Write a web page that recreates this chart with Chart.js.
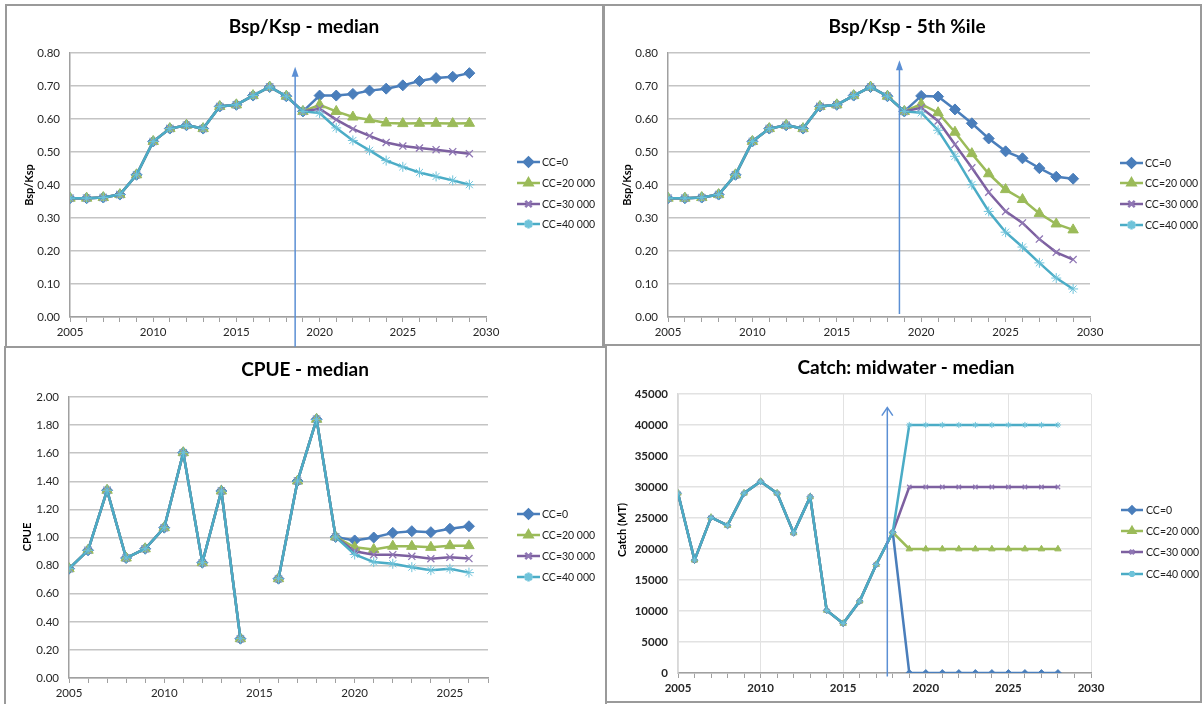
<!DOCTYPE html>
<html>
<head>
<meta charset="utf-8">
<script src="https://cdn.jsdelivr.net/npm/chart.js"></script>
<style>
  html, body { margin: 0; padding: 0; background: #fff; }
  body { width: 1203px; height: 704px; position: relative; overflow: hidden; }
  .frame { position: absolute; border: 2px solid #9a9a9a; box-sizing: border-box; }
  canvas { position: absolute; }
</style>
</head>
<body>
<div class="frame" style="left:5px;top:4px;width:599px;height:344px"></div>
<div class="frame" style="left:603px;top:4px;width:599px;height:342px"></div>
<div class="frame" style="left:4px;top:346px;width:603px;height:362px"></div>
<div class="frame" style="left:605px;top:344px;width:597px;height:359px"></div>

<canvas id="bspMedian" width="597" height="342" style="left:6px;top:5px"></canvas>
<canvas id="bsp5th" width="597" height="340" style="left:604px;top:5px"></canvas>
<canvas id="cpueMedian" width="601" height="357" style="left:5px;top:347px"></canvas>
<canvas id="catchMidwater" width="595" height="357" style="left:606px;top:345px"></canvas>

<script>
// ---- Scenario labels ----
const scenarioLabels = ['CC=0', 'CC=20 000', 'CC=30 000', 'CC=40 000'];

// ---- Spawning biomass ratio Bsp/Ksp ----
const bspHistYears = [2005, 2006, 2007, 2008, 2009, 2010, 2011, 2012, 2013, 2014, 2015, 2016, 2017, 2018, 2019];
const bspHist = [0.360, 0.360, 0.362, 0.371, 0.431, 0.532, 0.571, 0.581, 0.571, 0.638, 0.643, 0.671, 0.697, 0.669, 0.623];
const bspProjYears = [2020, 2021, 2022, 2023, 2024, 2025, 2026, 2027, 2028, 2029];

const bspMedianCC0  = [0.671, 0.671, 0.676, 0.686, 0.692, 0.702, 0.715, 0.724, 0.728, 0.739];
const bspMedianCC20 = [0.643, 0.623, 0.606, 0.598, 0.588, 0.586, 0.587, 0.587, 0.586, 0.587];
const bspMedianCC30 = [0.631, 0.598, 0.570, 0.549, 0.529, 0.518, 0.512, 0.507, 0.501, 0.495];
const bspMedianCC40 = [0.618, 0.573, 0.535, 0.505, 0.474, 0.455, 0.438, 0.426, 0.414, 0.401];

const bsp5thCC0  = [0.670, 0.668, 0.629, 0.587, 0.541, 0.502, 0.481, 0.451, 0.425, 0.419];
const bsp5thCC20 = [0.645, 0.619, 0.560, 0.495, 0.434, 0.386, 0.356, 0.314, 0.282, 0.264];
const bsp5thCC30 = [0.634, 0.594, 0.523, 0.452, 0.378, 0.320, 0.285, 0.236, 0.196, 0.174];
const bsp5thCC40 = [0.619, 0.566, 0.487, 0.401, 0.320, 0.257, 0.212, 0.164, 0.118, 0.085];

// ---- CPUE (no index in 2015) ----
const cpueHistYears = [2005, 2006, 2007, 2008, 2009, 2010, 2011, 2012, 2013, 2014, 2015, 2016, 2017, 2018, 2019];
const cpueHist = [0.778, 0.909, 1.336, 0.854, 0.920, 1.070, 1.604, 0.821, 1.331, 0.280, null, 0.707, 1.402, 1.841, 1.004];
const cpueProjYears = [2020, 2021, 2022, 2023, 2024, 2025, 2026];
const cpueCC0  = [0.979, 1.000, 1.033, 1.045, 1.038, 1.062, 1.080];
const cpueCC20 = [0.930, 0.915, 0.938, 0.937, 0.930, 0.942, 0.942];
const cpueCC30 = [0.902, 0.878, 0.878, 0.866, 0.849, 0.860, 0.850];
const cpueCC40 = [0.879, 0.825, 0.813, 0.789, 0.767, 0.778, 0.750];

// ---- Midwater catch (MT) ----
const catchHistYears = [2005, 2006, 2007, 2008, 2009, 2010, 2011, 2012, 2013, 2014, 2015, 2016, 2017, 2018];
const catchHist = [29000, 18200, 25100, 23800, 29000, 30900, 29000, 22600, 28400, 10100, 8000, 11600, 17500, 22700];
const catchProjYears = [2019, 2020, 2021, 2022, 2023, 2024, 2025, 2026, 2027, 2028];
const catchCC0  = [0, 0, 0, 0, 0, 0, 0, 0, 0, 0];
const catchCC20 = [20000, 20000, 20000, 20000, 20000, 20000, 20000, 20000, 20000, 20000];
const catchCC30 = [30000, 30000, 30000, 30000, 30000, 30000, 30000, 30000, 30000, 30000];
const catchCC40 = [40000, 40000, 40000, 40000, 40000, 40000, 40000, 40000, 40000, 40000];

// ---- Axis ticks ----
const bspTicks = { min: 0, max: 0.8, step: 0.1 };
const cpueTicks = { min: 0, max: 2.0, step: 0.2 };
const catchTicks = { min: 0, max: 45000, step: 5000 };

// Series styling (Excel-like palette and markers)
const seriesStyle = [
  { color: '#4a7ebb', marker: '#4a7ebb', point: 'rectRot',  radius: 5.5, bw: 1 },
  { color: '#9bbb59', marker: '#9bbb59', point: 'triangle', radius: 6,   bw: 1 },
  { color: '#7d60a0', marker: '#8f76b4', point: 'crossRot', radius: 5,   bw: 1.3 },
  { color: '#4bacc6', marker: '#6fc3da', point: 'star',     radius: 5,   bw: 1 }
];

const FONT = 'Lato, "Open Sans", "DejaVu Sans", sans-serif';
Chart.defaults.font.family = FONT;

function toPoints(years, values) {
  return years.map((yr, i) => ({ x: yr, y: values[i] }));
}

// Titles, rotated axis title, legend and the vertical arrow
const panelDecor = {
  id: 'panelDecor',
  afterDatasetsDraw(chart, args, o) {
    if (!o.arrow) return;
    const { ctx } = chart;
    const xs = chart.scales.x, ys = chart.scales.y;
    const px = xs.getPixelForValue(o.arrow.at);
    const y0 = ys.getPixelForValue(o.arrow.from);
    const y1 = ys.getPixelForValue(o.arrow.to);
    ctx.save();
    ctx.strokeStyle = '#5b8fd4';
    ctx.fillStyle = '#5b8fd4';
    ctx.lineWidth = 1.5;
    ctx.beginPath();
    ctx.moveTo(px, y0);
    ctx.lineTo(px, o.arrow.open ? y1 : y1 + 8);
    ctx.stroke();
    ctx.beginPath();
    if (o.arrow.open) {
      ctx.moveTo(px - 5.5, y1 + 8);
      ctx.lineTo(px, y1);
      ctx.lineTo(px + 5.5, y1 + 8);
      ctx.stroke();
    } else {
      ctx.moveTo(px, y1);
      ctx.lineTo(px - 3.5, y1 + 10);
      ctx.lineTo(px + 3.5, y1 + 10);
      ctx.closePath();
      ctx.fill();
    }
    ctx.restore();
  },
  afterDraw(chart, args, o) {
    const { ctx } = chart;
    ctx.save();
    // chart title
    ctx.fillStyle = '#000';
    ctx.font = 'bold 19px ' + FONT;
    ctx.textAlign = 'center';
    ctx.textBaseline = 'middle';
    ctx.fillText(o.title.text, o.title.x, o.title.y);
    // vertical axis title
    ctx.save();
    ctx.translate(o.yTitle.x, o.yTitle.y);
    ctx.rotate(-Math.PI / 2);
    ctx.font = 'bold 11px ' + FONT;
    ctx.fillText(o.yTitle.text, 0, 0);
    ctx.restore();
    // legend: line with marker, then label
    const lg = o.legend;
    chart.data.datasets.forEach((ds, i) => {
      const st = seriesStyle[i];
      const y = lg.rows[i];
      ctx.strokeStyle = st.color;
      ctx.lineWidth = ds.borderWidth;
      ctx.beginPath();
      ctx.moveTo(lg.x0, y);
      ctx.lineTo(lg.x1, y);
      ctx.stroke();
      ctx.fillStyle = st.marker;
      ctx.strokeStyle = st.marker;
      Chart.helpers.drawPoint(ctx, {
        pointStyle: st.point, rotation: 0,
        radius: Math.min(ds.pointRadius, 4.5), borderWidth: st.bw
      }, (lg.x0 + lg.x1) / 2, y);
      ctx.fillStyle = '#222';
      ctx.font = '10.5px ' + FONT;
      ctx.textAlign = 'left';
      ctx.fillText(ds.label, lg.text, y + 0.5);
    });
    ctx.restore();
  }
};

function buildPanel(id, p) {
  const datasets = p.series.map((vals, i) => {
    const st = seriesStyle[i];
    return {
      label: scenarioLabels[i],
      data: toPoints(p.histYears.concat(p.projYears), p.hist.concat(vals)),
      borderColor: st.color,
      backgroundColor: st.marker,
      pointBorderColor: st.marker,
      pointBackgroundColor: st.marker,
      pointStyle: st.point,
      pointRadius: st.radius * p.markerScale,
      pointBorderWidth: st.bw,
      borderWidth: p.lineWidth,
      tension: 0,
      spanGaps: false,
      order: 3 - i
    };
  });
  const labelColor = '#262626';
  const tickFont = { family: FONT, size: 11.5, weight: p.boldTicks ? 'bold' : 'normal' };
  return new Chart(document.getElementById(id), {
    type: 'line',
    data: { datasets },
    options: {
      responsive: false,
      animation: false,
      events: [],
      layout: { padding: p.pad },
      plugins: {
        legend: { display: false },
        tooltip: { enabled: false },
        title: { display: false },
        panelDecor: p.decor
      },
      scales: {
        x: {
          type: 'linear',
          min: p.xMin, max: p.xMax,
          afterFit: s => { s.height = p.xAxisH; },
          ticks: {
            stepSize: 1, autoSkip: false, maxRotation: 0, minRotation: 0,
            padding: 3, color: labelColor, font: tickFont,
            callback: v => (v % 5 === 0 ? String(v) : '')
          },
          grid: {
            display: true,
            drawOnChartArea: true,
            color: ctx => (p.xGrid && ctx.tick && ctx.tick.value % 5 === 0) ? '#e2e2e2' : 'rgba(0,0,0,0)',
            lineWidth: 1,
            tickColor: '#a0a0a0',
            tickWidth: 1,
            tickLength: 5
          },
          border: { display: true, color: '#a0a0a0', width: 1.5 }
        },
        y: {
          min: p.yTicks.min, max: p.yTicks.max,
          afterFit: s => { s.width = p.yAxisW; },
          ticks: {
            stepSize: p.yTicks.step, padding: 10, color: labelColor, font: tickFont,
            callback: p.yFormat
          },
          grid: { color: p.yGridColor, lineWidth: 1.5, drawTicks: false },
          border: { display: true, color: p.yBorderColor, width: 1.5 }
        }
      }
    },
    plugins: [panelDecor]
  });
}

const fmt2 = v => Number(v).toFixed(2);

buildPanel('bspMedian', {
  histYears: bspHistYears, hist: bspHist, projYears: bspProjYears,
  series: [bspMedianCC0, bspMedianCC20, bspMedianCC30, bspMedianCC40],
  xMin: 2005, xMax: 2030, yTicks: bspTicks, yFormat: fmt2,
  pad: { top: 48, right: 117, bottom: 0, left: 0 }, yAxisW: 64, xAxisH: 30,
  lineWidth: 2.5, markerScale: 1, boldTicks: false, xGrid: false,
  yGridColor: '#c4c4c4', yBorderColor: '#a0a0a0',
  decor: {
    title: { text: 'Bsp/Ksp - median', x: 298, y: 22 },
    yTitle: { text: 'Bsp/Ksp', x: 23, y: 180 },
    legend: { x0: 511, x1: 534, text: 536, rows: [157, 178, 199, 219] },
    arrow: { at: 2018.53, from: -0.09, to: 0.758, open: false }
  }
});

buildPanel('bsp5th', {
  histYears: bspHistYears, hist: bspHist, projYears: bspProjYears,
  series: [bsp5thCC0, bsp5thCC20, bsp5thCC30, bsp5thCC40],
  xMin: 2005, xMax: 2030, yTicks: bspTicks, yFormat: fmt2,
  pad: { top: 48, right: 111, bottom: 0, left: 0 }, yAxisW: 64, xAxisH: 28,
  lineWidth: 2.5, markerScale: 1, boldTicks: false, xGrid: false,
  yGridColor: '#c4c4c4', yBorderColor: '#a0a0a0',
  decor: {
    title: { text: 'Bsp/Ksp - 5th %ile', x: 303, y: 22 },
    yTitle: { text: 'Bsp/Ksp', x: 23, y: 180 },
    legend: { x0: 516, x1: 539, text: 541, rows: [158, 178, 199, 220] },
    arrow: { at: 2018.71, from: 0.009, to: 0.778, open: false }
  }
});

buildPanel('cpueMedian', {
  histYears: cpueHistYears, hist: cpueHist, projYears: cpueProjYears,
  series: [cpueCC0, cpueCC20, cpueCC30, cpueCC40],
  xMin: 2005, xMax: 2027, yTicks: cpueTicks, yFormat: fmt2,
  pad: { top: 50, right: 118, bottom: 0, left: 0 }, yAxisW: 64, xAxisH: 26,
  lineWidth: 2.5, markerScale: 1, boldTicks: false, xGrid: false,
  yGridColor: '#c4c4c4', yBorderColor: '#a0a0a0',
  decor: {
    title: { text: 'CPUE - median', x: 300, y: 23 },
    yTitle: { text: 'CPUE', x: 22, y: 190 },
    legend: { x0: 512, x1: 535, text: 537, rows: [167, 188, 209, 230] }
  }
});

buildPanel('catchMidwater', {
  histYears: catchHistYears, hist: catchHist, projYears: catchProjYears,
  series: [catchCC0, catchCC20, catchCC30, catchCC40],
  xMin: 2005, xMax: 2030, yTicks: catchTicks, yFormat: v => String(v),
  pad: { top: 49, right: 110, bottom: 0, left: 0 }, yAxisW: 72, xAxisH: 29,
  lineWidth: 2.5, markerScale: 0.62, boldTicks: true, xGrid: true,
  yGridColor: '#e2e2e2', yBorderColor: '#d8d8d8',
  decor: {
    title: { text: 'Catch: midwater - median', x: 300, y: 23 },
    yTitle: { text: 'Catch (MT)', x: 16, y: 185 },
    legend: { x0: 515, x1: 537, text: 540, rows: [165, 186, 207, 229] },
    arrow: { at: 2017.67, from: -550, to: 42800, open: true }
  }
});
</script>
</body>
</html>
